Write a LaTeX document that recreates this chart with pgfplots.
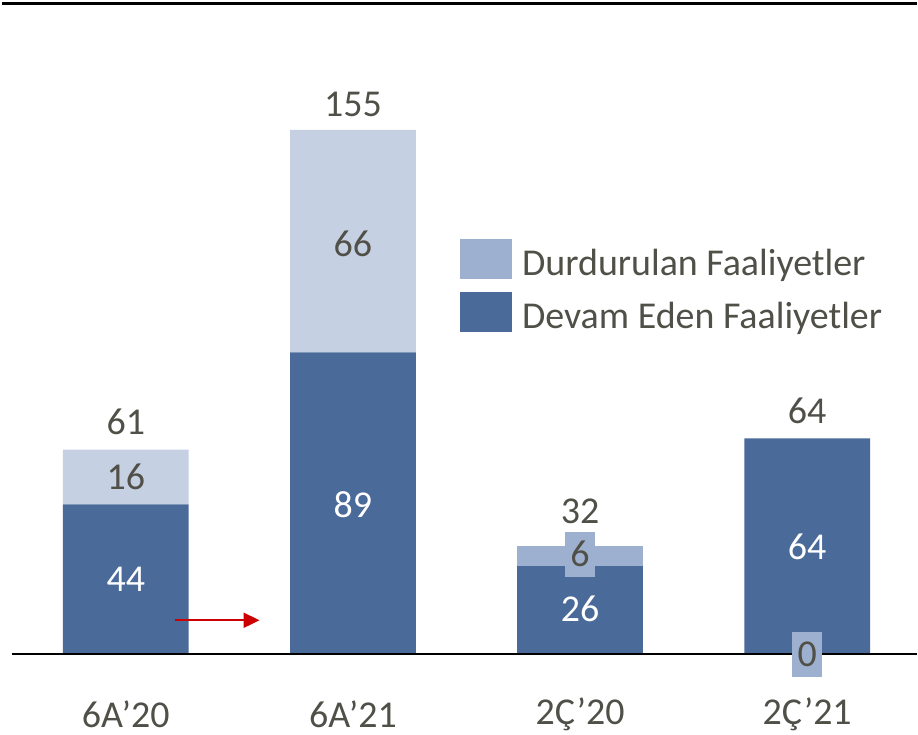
\documentclass[border=0pt]{standalone}
\usepackage{fontspec}
\setmainfont{Carlito}
\usepackage{pgfplots}
\pgfplotsset{compat=1.18}
\usetikzlibrary{arrows.meta}

\definecolor{darkB}{RGB}{74,106,154}
\definecolor{lightA}{RGB}{197,208,227}
\definecolor{lightB}{RGB}{157,176,207}
\definecolor{tgray}{RGB}{80,80,72}
\definecolor{arrowred}{RGB}{204,0,0}
\newcommand\lbl{\fontsize{28.5}{32}\selectfont}
\tikzset{vl/.style={font=\lbl, text=tgray},
  wl/.style={font=\lbl, text=white},
  bx/.style={font=\lbl, text=tgray, fill=lightB, minimum width=22.5pt, minimum height=33.75pt, inner sep=0pt}}

\begin{document}
\begin{tikzpicture}
\begin{axis}[
  scale only axis, width=688.5pt, height=550.5pt,
  xmin=-0.5538, xmax=3.4813, ymin=-23.32, ymax=193.4,
  ybar stacked, bar width=0.5538,
  axis line style={draw=none},
  ytick=\empty, xtick={0,1,2,3},
  xticklabels={6A’20,6A’21,2Ç’20,2Ç’21},
  major tick length=0pt,
  xticklabel style={anchor=center, yshift=14.25pt, font=\lbl, text=tgray},
  clip=false,
  legend image code/.code={\fill[#1] (0pt,-12pt) rectangle (39.75pt,18pt);},
  legend style={draw=none, fill=none, inner sep=0pt,
    at={(0.5011,0.6744)}, anchor=north west,
    font=\lbl, text=tgray, row sep=9.5pt,
    /tikz/every odd column/.append style={column sep=5.25pt}},
  legend cell align=left, reverse legend,
]
% Devam Eden
\addplot[fill=darkB, draw=none] coordinates {(0,44.3) (1,89.2) (2,26) (3,63.8)};
% Durdurulan (6A)
\addplot[fill=lightA, draw=none] coordinates {(0,16.2) (1,65.8) (2,0) (3,0)};
% Durdurulan (2C)
\addplot[fill=lightB, draw=none] coordinates {(0,0) (1,0) (2,5.9) (3,0)};
\legend{Devam Eden Faaliyetler,,Durdurulan Faaliyetler}

\coordinate (tl) at (axis cs:-0.545,192.5);
\coordinate (tr) at (axis cs:3.4813,192.5);
\coordinate (bl) at (axis cs:-0.501,0);
\coordinate (br) at (axis cs:3.4813,0);
\coordinate (a1) at (axis cs:0.215,10);
\coordinate (a2) at (axis cs:0.589,10);

\coordinate (p61) at (axis cs:0,68.8);
\coordinate (p16) at (axis cs:0,52.3);
\coordinate (p44) at (axis cs:0,22.1);
\coordinate (p155) at (axis cs:1,162.7);
\coordinate (p66) at (axis cs:1,121.3);
\coordinate (p89) at (axis cs:1,44.3);
\coordinate (p32) at (axis cs:2,42.2);
\coordinate (p6) at (axis cs:2,29.5);
\coordinate (p26) at (axis cs:2,13.3);
\coordinate (p64t) at (axis cs:3,72);
\coordinate (p64) at (axis cs:3,31.6);
\coordinate (p0) at (axis cs:3,0);
\path (rel axis cs:0,0) rectangle (rel axis cs:1,1);
\end{axis}
% lines
\draw[black, line width=2.25pt] (tl) -- (tr);
\draw[black, line width=1.5pt] (bl) -- (br);
\draw[arrowred, line width=1.5pt, -{Triangle[length=12pt,width=11.25pt]}] (a1) -- (a2);
% labels
\node[vl] at (p61) {61};
\node[vl] at (p16) {16};
\node[wl] at (p44) {44};
\node[vl] at (p155) {155};
\node[vl] at (p66) {66};
\node[wl] at (p89) {89};
\node[vl] at (p32) {32};
\node[bx] at (p6) {6};
\node[wl] at (p26) {26};
\node[vl] at (p64t) {64};
\node[wl] at (p64) {64};
\node[bx] at (p0) {0};
\end{tikzpicture}
\end{document}
